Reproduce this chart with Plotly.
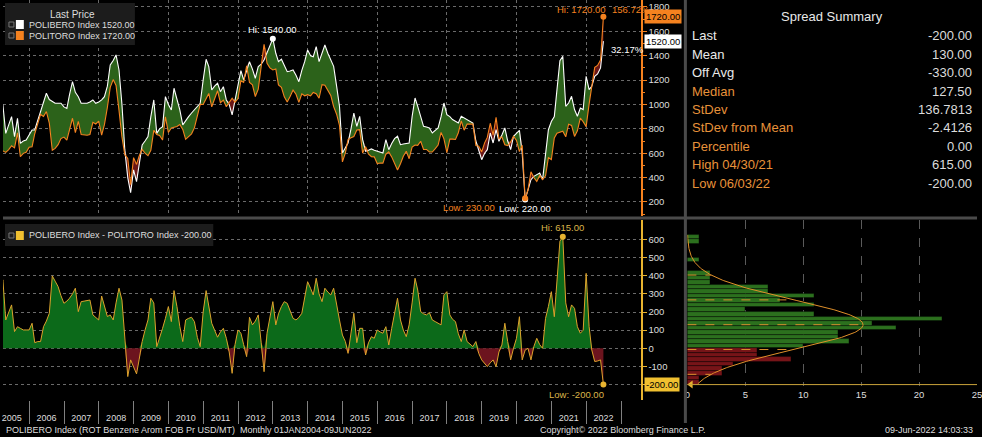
import numpy as np
import pandas as pd
import plotly.graph_objects as go

W, H = 982, 437

# month-end prices, Feb 2005 .. Jun 2022 (USD/MT), one row per year
POLIBERO = [
    1000, 996, 763, 830, 900, 736, 886, 681, 700, 709, 750,             # 2005 (Feb-Dec)
    791, 791, 870, 955, 1020, 1092, 1040, 1023, 1010, 1010, 1010, 980,  # 2006
    968, 1080, 1187, 1100, 1064, 1010, 1010, 1010, 1020, 1037, 1010, 1020,  # 2007
    1037, 1064, 1150, 1324, 1360, 1406, 1283, 1000, 627, 400, 277, 463,     # 2008
    367, 517, 668, 700, 736, 900, 1037, 763, 800, 818, 1064, 1000,          # 2009
    955, 1133, 1050, 955, 832, 870, 900, 930, 955, 980, 1010, 1200,         # 2010
    1371, 1310, 1119, 1150, 1174, 1105, 1146, 1037, 1000, 914, 1037, 1150,  # 2011
    1278, 1201, 1270, 1351, 1290, 1215, 1310, 1330, 1365, 1420, 1480, 1540,  # 2012
    1420, 1351, 1371, 1320, 1269, 1275, 1283, 1240, 1187, 1280, 1351, 1447,  # 2013
    1400, 1392, 1474, 1351, 1420, 1488, 1420, 1368, 1313, 1150, 985, 602,    # 2014
    640, 684, 800, 930, 821, 903, 711, 616, 625, 635, 625, 616,        # 2015
    610, 602, 711, 629, 680, 720, 739, 670, 675, 680, 684, 900,        # 2016
    1053, 985, 900, 821, 815, 807, 766, 785, 807, 900, 1012, 917,      # 2017
    900, 876, 860, 848, 903, 890, 876, 860, 848, 700, 629, 547,        # 2018
    600, 629, 766, 684, 793, 698, 750, 807, 700, 629, 739, 760,        # 2019
    788, 602, 220, 300, 383, 410, 424, 438, 383, 580, 793, 860,        # 2020
    900, 1122, 1360, 1395, 985, 1012, 1067, 958, 903, 971, 958, 1231,  # 2021
    1122, 1149, 1231, 1250, 1300, 1520,                                # 2022 (Jan-Jun)
]

# POLIBERO - POLITORO spread, same months
SPREAD = [
    330, 377, 156, 200, 239, 92, 119, 110, 101, 101, 101,        # 2005
    138, 31, 37, 37, 119, 150, 193, 399, 370, 340, 290, 248,     # 2006
    260, 276, 300, 331, 202, 257, 260, 262, 266, 184, 170, 156,  # 2007
    288, 230, 175, 184, 156, 250, 331, 266, 40, -156, -64, -101,  # 2008
    -141, -60, 37, 100, 156, 276, 250, 9, 55, 110, 165, 230,     # 2009
    147, 318, 230, 120, 37, 156, 165, 171, 147, 60, 9, 200,      # 2010
    318, 220, 138, 100, 61, 90, 110, 55, -20, -138, 20, 101,     # 2011
    83, 20, -46, 171, 129, 150, 184, 30, -129, 83, 180, 257,     # 2012
    129, 190, 230, 257, 248, 210, 165, 156, 170, 193, 280, 367,  # 2013
    330, 294, 386, 300, 257, 331, 310, 294, 331, 230, 156, 73,   # 2014
    37, -28, 73, 193, 31, 110, 110, -37, 30, 64, 55, 101,        # 2015
    90, 83, 119, 18, 110, 200, 276, 156, 100, 64, 129, 250,      # 2016
    386, 321, 202, 190, 184, 197, 156, 147, 140, 129, 294, 312,  # 2017
    184, 160, 147, 80, 37, 101, 37, 20, 9, 37, -28, -64,         # 2018
    -85, -101, -80, -64, -101, -20, 18, 138, 37, -64, 0, 55,     # 2019
    174, -64, -10, 0, -64, 9, 55, 20, 0, 165, 230, 312,          # 2020
    174, 358, 590, 615, 250, 174, 239, 220, 119, 83, 100, 413,   # 2021
    119, -9, -73, -70, -64, -200,                                # 2022
]

YEARS = list(range(2005, 2023))

# spread histogram, 25-wide bins (lower edges) and counts
HIST_LOWER = [-200, -175, -150, -125, -100, -75, -50, -25, 0, 25, 50, 75, 100,
              125, 150, 175, 200, 225, 250, 275, 300, 325, 350, 375, 400, 425,
              450, 475, 500, 525, 550, 575, 600]
HIST_COUNTS = [1, 1, 3, 3, 4, 9, 6, 6, 10, 14, 13, 13, 18,
               16, 22, 11, 5, 11, 8, 11, 7, 7, 2, 2, 2, 0,
               0, 1, 0, 0, 0, 1, 1]

SUMMARY_LABELS = ["Last", "Mean", "Off Avg", "Median", "StDev", "StDev from Mean",
                  "Percentile", "High 04/30/21", "Low 06/03/22"]
SUMMARY_VALUES = ["-200.00", "130.00", "-330.00", "127.50", "136.7813", "-2.4126",
                  "0.00", "615.00", "-200.00"]
MEAN, STDEV = 130.0, 136.7813

ORANGE = "#f5821f"
YELLOW = "#e8b430"
GRID = "#6a6a6a"
TXT = "#dedede"
FONT = "Liberation Sans, Arial, sans-serif"


def px(x):
    return x / W


def py(y):
    return 1 - y / H


libero = np.array(POLIBERO, dtype=float)
spread = np.array(SPREAD, dtype=float)
toro = libero - spread
dates = pd.date_range("2005-03-01", periods=len(libero), freq="MS") - pd.Timedelta(days=1)

XR = ["2005-04-01", "2023-07-27"]
even_years = [f"{y}-01-01" for y in YEARS if y % 2 == 0]

# the bottom panel spans 220..400 px; the histogram stops at 386 px on the same scale
SPREAD_RANGE = [-285, 707]
val_per_px = (SPREAD_RANGE[1] - SPREAD_RANGE[0]) / 180
HIST_RANGE = [SPREAD_RANGE[1] - 166 * val_per_px, SPREAD_RANGE[1]]
spread_ticks = list(range(-200, 700, 100))

fig = go.Figure()

# top panel: fills between the two prices
fig.add_trace(go.Scatter(x=dates, y=toro, mode="lines", line=dict(width=0),
                         hoverinfo="skip", xaxis="x", yaxis="y"))
fig.add_trace(go.Scatter(x=dates, y=np.maximum(libero, toro), mode="lines", line=dict(width=0),
                         fill="tonexty", fillcolor="rgb(44,98,26)", hoverinfo="skip",
                         xaxis="x", yaxis="y"))
fig.add_trace(go.Scatter(x=dates, y=libero, mode="lines", line=dict(width=0),
                         hoverinfo="skip", xaxis="x", yaxis="y"))
fig.add_trace(go.Scatter(x=dates, y=np.maximum(toro, libero), mode="lines", line=dict(width=0),
                         fill="tonexty", fillcolor="rgb(105,22,22)", hoverinfo="skip",
                         xaxis="x", yaxis="y"))
fig.add_trace(go.Scatter(x=dates, y=libero, mode="lines", line=dict(color="white", width=1.1),
                         xaxis="x", yaxis="y"))
fig.add_trace(go.Scatter(x=dates, y=toro, mode="lines", line=dict(color=ORANGE, width=1.1),
                         xaxis="x", yaxis="y"))

# extreme points on top panel
ih, il = int(np.argmax(libero)), int(np.argmin(libero))
th, tl = int(np.argmax(toro)), int(np.argmin(toro))
fig.add_trace(go.Scatter(x=[dates[ih], dates[il]], y=[libero[ih], libero[il]], mode="markers",
                         marker=dict(color="white", size=6), xaxis="x", yaxis="y"))
fig.add_trace(go.Scatter(x=[dates[th], dates[tl]], y=[toro[th], toro[tl]], mode="markers",
                         marker=dict(color=ORANGE, size=6), xaxis="x", yaxis="y"))

# bottom panel: spread
fig.add_trace(go.Scatter(x=dates, y=np.maximum(spread, 0), mode="lines", line=dict(width=0),
                         fill="tozeroy", fillcolor="rgb(12,106,26)", hoverinfo="skip",
                         xaxis="x2", yaxis="y2"))
fig.add_trace(go.Scatter(x=dates, y=np.minimum(spread, 0), mode="lines", line=dict(width=0),
                         fill="tozeroy", fillcolor="rgb(108,20,30)", hoverinfo="skip",
                         xaxis="x2", yaxis="y2"))
fig.add_trace(go.Scatter(x=dates, y=spread, mode="lines", line=dict(color="#dca22c", width=1),
                         xaxis="x2", yaxis="y2"))
sh, sl = int(np.argmax(spread)), len(spread) - 1
fig.add_trace(go.Scatter(x=[dates[sh], dates[sl]], y=[spread[sh], spread[sl]], mode="markers",
                         marker=dict(color=YELLOW, size=6), xaxis="x2", yaxis="y2"))

# histogram of spread
centers = np.array(HIST_LOWER) + 12.5
bar_colors = ["rgb(118,20,24)" if lo < 0 else "rgb(44,112,30)" for lo in HIST_LOWER]
fig.add_trace(go.Bar(x=HIST_COUNTS, y=centers, orientation="h", width=25,
                     marker=dict(color=bar_colors, line=dict(color="rgba(0,0,0,0.45)", width=0.8)),
                     xaxis="x3", yaxis="y3"))

n_obs = sum(HIST_COUNTS)
scale = n_obs * 25 / (STDEV * np.sqrt(2 * np.pi))
yy = np.linspace(HIST_LOWER[0] + 5, HIST_LOWER[-1] + 25, 300)
xx = scale * np.exp(-0.5 * ((yy - MEAN) / STDEV) ** 2)
fig.add_trace(go.Scatter(x=xx, y=yy, mode="lines", line=dict(color="#e0902a", width=1),
                         xaxis="x3", yaxis="y3"))
dx, dy = [], []
for k in (-2, -1, 0, 1, 2):
    lvl = MEAN + k * STDEV
    dx += [0, scale * np.exp(-0.5 * k * k), None]
    dy += [lvl, lvl, None]
fig.add_trace(go.Scatter(x=dx, y=dy, mode="lines", line=dict(color="#d8902e", width=1, dash="dash"),
                         xaxis="x3", yaxis="y3"))
fig.add_trace(go.Scatter(x=[0.3], y=[spread[-1]], mode="markers",
                         marker=dict(symbol="triangle-left", color=YELLOW, size=7),
                         xaxis="x3", yaxis="y3", cliponaxis=False))

top_dom = [py(216), 1.0]
bot_dom = [py(400), py(220)]
main_x = [0, px(643)]
tick_font = dict(color=TXT, size=9.5, family=FONT)

fig.update_layout(
    width=W, height=H,
    margin=dict(l=0, r=0, t=0, b=0),
    paper_bgcolor="black", plot_bgcolor="black",
    showlegend=False,
    font=dict(family=FONT, color=TXT),
    xaxis=dict(domain=main_x, anchor="y", type="date", range=XR,
               tickvals=even_years, showticklabels=False, ticks="",
               showgrid=True, gridcolor=GRID, griddash="dot", zeroline=False),
    yaxis=dict(domain=top_dom, anchor="x", side="right", range=[85, 1857],
               tick0=0, dtick=200, ticks="outside", ticklen=4, tickcolor=ORANGE,
               showline=True, linecolor=ORANGE, linewidth=1.5, tickfont=tick_font,
               showgrid=True, gridcolor=GRID, griddash="dot", zeroline=False,
               minor=dict(dtick=100, ticks="outside", ticklen=2, tickcolor=ORANGE)),
    xaxis2=dict(domain=main_x, anchor="y2", type="date", range=XR,
                tickvals=[f"{y}-07-01" for y in YEARS], ticktext=[str(y) for y in YEARS],
                ticks="", tickfont=dict(tick_font, size=9), ticklabelstandoff=11,
                ticklabeloverflow="allow", showgrid=False, zeroline=False,
                minor=dict(tickvals=[f"{y}-01-01" for y in YEARS + [YEARS[-1] + 1]],
                           ticks="outside", ticklen=23, tickcolor="#808080", tickwidth=1,
                           showgrid=False)),
    xaxis4=dict(overlaying="x2", anchor="y2", type="date", range=XR,
                tickvals=even_years, showticklabels=False, ticks="",
                showgrid=True, gridcolor=GRID, griddash="dot", zeroline=False),
    yaxis2=dict(domain=bot_dom, anchor="x2", side="right", range=SPREAD_RANGE,
                tickvals=spread_ticks,
                ticktext=["" if v == spread_ticks[0] else str(v) for v in spread_ticks],
                ticks="outside", ticklen=4, tickcolor=YELLOW,
                showline=True, linecolor=YELLOW, linewidth=1.5, tickfont=tick_font,
                showgrid=True, gridcolor=GRID, griddash="dot", zeroline=False),
    yaxis4=dict(overlaying="y2", anchor="free", position=px(683), side="right",
                range=SPREAD_RANGE, tick0=0, dtick=100, ticks="outside", ticklen=4,
                tickcolor=YELLOW, tickwidth=2, showticklabels=False, showgrid=False,
                showline=False, zeroline=False),
    xaxis3=dict(domain=[px(690), 1.0], anchor="y3", range=[0, 25], tick0=0, dtick=5,
                ticks="", tickfont=tick_font, ticklabelstandoff=1, ticklabeloverflow="allow",
                showline=False, showgrid=True, gridcolor="#5a5a5a", griddash="dash",
                zeroline=False),
    xaxis5=dict(overlaying="x3", anchor="free", position=py(398), side="bottom",
                range=[0, 25], tick0=0, dtick=5, ticks="inside", ticklen=4,
                tickcolor="#d0d0d0", showticklabels=False, showline=True,
                linecolor="#d0d0d0", linewidth=1, showgrid=False, zeroline=False,
                minor=dict(dtick=2.5, ticks="inside", ticklen=2, tickcolor="#d0d0d0")),
    yaxis3=dict(domain=[py(386), py(220)], anchor="x3", range=HIST_RANGE, showticklabels=False,
                ticks="", showgrid=False, zeroline=False),
    bargap=0,
)

shapes = [
    # panel dividers
    dict(type="line", xref="paper", yref="paper", x0=0, x1=1, y0=py(218), y1=py(218),
         line=dict(color="#4a4a4a", width=3)),
    dict(type="line", xref="paper", yref="paper", x0=px(688), x1=px(688), y0=py(0), y1=py(423),
         line=dict(color="#4a4a4a", width=3)),
    # legend boxes
    dict(type="rect", xref="paper", yref="paper", x0=px(2), x1=px(133), y0=py(45), y1=py(3),
         fillcolor="#1c1c1c", line=dict(width=0)),
    dict(type="rect", xref="paper", yref="paper", x0=px(2), x1=px(212), y0=py(246), y1=py(224),
         fillcolor="#1c1c1c", line=dict(width=0)),
    # last spread level across histogram
    dict(type="line", xref="x3 domain", yref="y3", x0=0, x1=1, y0=spread[-1], y1=spread[-1],
         line=dict(color="#c9a23a", width=1)),
]
for y0, col in ((21, "white"), (32, ORANGE)):
    shapes.append(dict(type="rect", xref="paper", yref="paper", x0=px(6), x1=px(11),
                       y0=py(y0 + 6), y1=py(y0 + 1), line=dict(color="#777", width=1)))
    shapes.append(dict(type="rect", xref="paper", yref="paper", x0=px(13), x1=px(21),
                       y0=py(y0 + 8), y1=py(y0 - 1), fillcolor=col, line=dict(width=0)))
shapes.append(dict(type="rect", xref="paper", yref="paper", x0=px(6), x1=px(11),
                   y0=py(238), y1=py(233), line=dict(color="#777", width=1)))
shapes.append(dict(type="rect", xref="paper", yref="paper", x0=px(13), x1=px(21),
                   y0=py(240), y1=py(231), fillcolor="#f0c030", line=dict(width=0)))
fig.update_layout(shapes=shapes)

small = dict(family=FONT, size=9.5)


def note(text, x, y, color=TXT, size=9.5, xanchor="left", **kw):
    fig.add_annotation(text=text, x=px(x), y=py(y), xref="paper", yref="paper",
                       xanchor=xanchor, yanchor="middle", showarrow=False,
                       font=dict(family=FONT, size=size, color=color), **kw)


# legends
note("Last Price", 70, 14, xanchor="center", size=10)
note(f"POLIBERO Index {libero[-1]:.2f}", 24, 25, size=9)
note(f"POLITORO Index {toro[-1]:.2f}", 24, 36, size=9)
note(f"POLIBERO Index - POLITORO Index {spread[-1]:.2f}", 24, 235, size=9)

# top panel labels
fig.add_annotation(text=f"Hi: {libero[ih]:.2f}", x=dates[ih], y=libero[ih], xref="x", yref="y",
                   showarrow=False, yanchor="bottom", yshift=2, font=dict(small, color="white"))
fig.add_annotation(text=f"Hi: {toro[th]:.2f}", x=dates[th], y=toro[th], xref="x", yref="y",
                   showarrow=False, xanchor="right", xshift=5, yanchor="bottom", yshift=0,
                   font=dict(small, color=ORANGE))
fig.add_annotation(text="156.72%", x=dates[th], y=toro[th], xref="x", yref="y",
                   showarrow=False, xanchor="left", xshift=7, yanchor="bottom", yshift=0,
                   font=dict(small, color=ORANGE))
fig.add_annotation(text="32.17%", x=dates[-1], y=libero[-1], xref="x", yref="y",
                   showarrow=False, xanchor="left", xshift=6, yanchor="top", yshift=-1,
                   font=dict(small, color="white"))
fig.add_annotation(text=f"Low: {libero[il]:.2f}", x=dates[il], y=libero[il], xref="x", yref="y",
                   showarrow=False, xanchor="center", yanchor="top", yshift=-1,
                   font=dict(small, color="white"))
fig.add_annotation(text=f"Low: {toro[tl]:.2f}", x=dates[tl], y=toro[tl], xref="x", yref="y",
                   showarrow=False, xanchor="right", xshift=-28, yanchor="top", yshift=-2,
                   font=dict(small, color=ORANGE))

# bottom panel labels
fig.add_annotation(text=f"Hi: {spread[sh]:.2f}", x=dates[sh], y=spread[sh], xref="x2", yref="y2",
                   showarrow=False, yanchor="bottom", yshift=2, font=dict(small, color="#dcb54a"))
fig.add_annotation(text=f"Low: {spread[sl]:.2f}", x=dates[sl], y=spread[sl], xref="x2", yref="y2",
                   showarrow=False, xanchor="right", xshift=3, yanchor="top", yshift=-2,
                   font=dict(small, color="#dcb54a"))

# axis price tags
for val, yref, bg in ((toro[-1], "y", ORANGE), (libero[-1], "y", "white"), (spread[-1], "y2", "#f0c030")):
    fig.add_annotation(text=f"{val:.2f}", x=px(646), y=val, xref="paper", yref=yref,
                       xanchor="left", yanchor="middle", showarrow=False, bgcolor=bg,
                       borderpad=1, font=dict(small, color="black"))

# spread summary
note("Spread Summary", 836, 17, color="#e8e8e8", size=13, xanchor="center")
for i, (lab, val) in enumerate(zip(SUMMARY_LABELS, SUMMARY_VALUES)):
    y = 36 + i * 18.4
    note(lab, 693, y, color="#eaeaea" if i < 3 else "#e8923a", size=13)
    note(val, 979, y, color="#dcdcdc", size=13, xanchor="right")

# footer
note("POLIBERO Index (ROT Benzene Arom FOB Pr USD/MT)  Monthly 01JAN2004-09JUN2022", 1, 430, size=9)
note("Copyright\u00a9 2022 Bloomberg Finance L.P.", 539, 430, size=9)
note("09-Jun-2022 14:03:33", 980, 430, size=9, xanchor="right")

fig.write_html("out.html", config={"displayModeBar": False},
               post_script="document.body.style.margin='0px';document.body.style.overflow='hidden';")
